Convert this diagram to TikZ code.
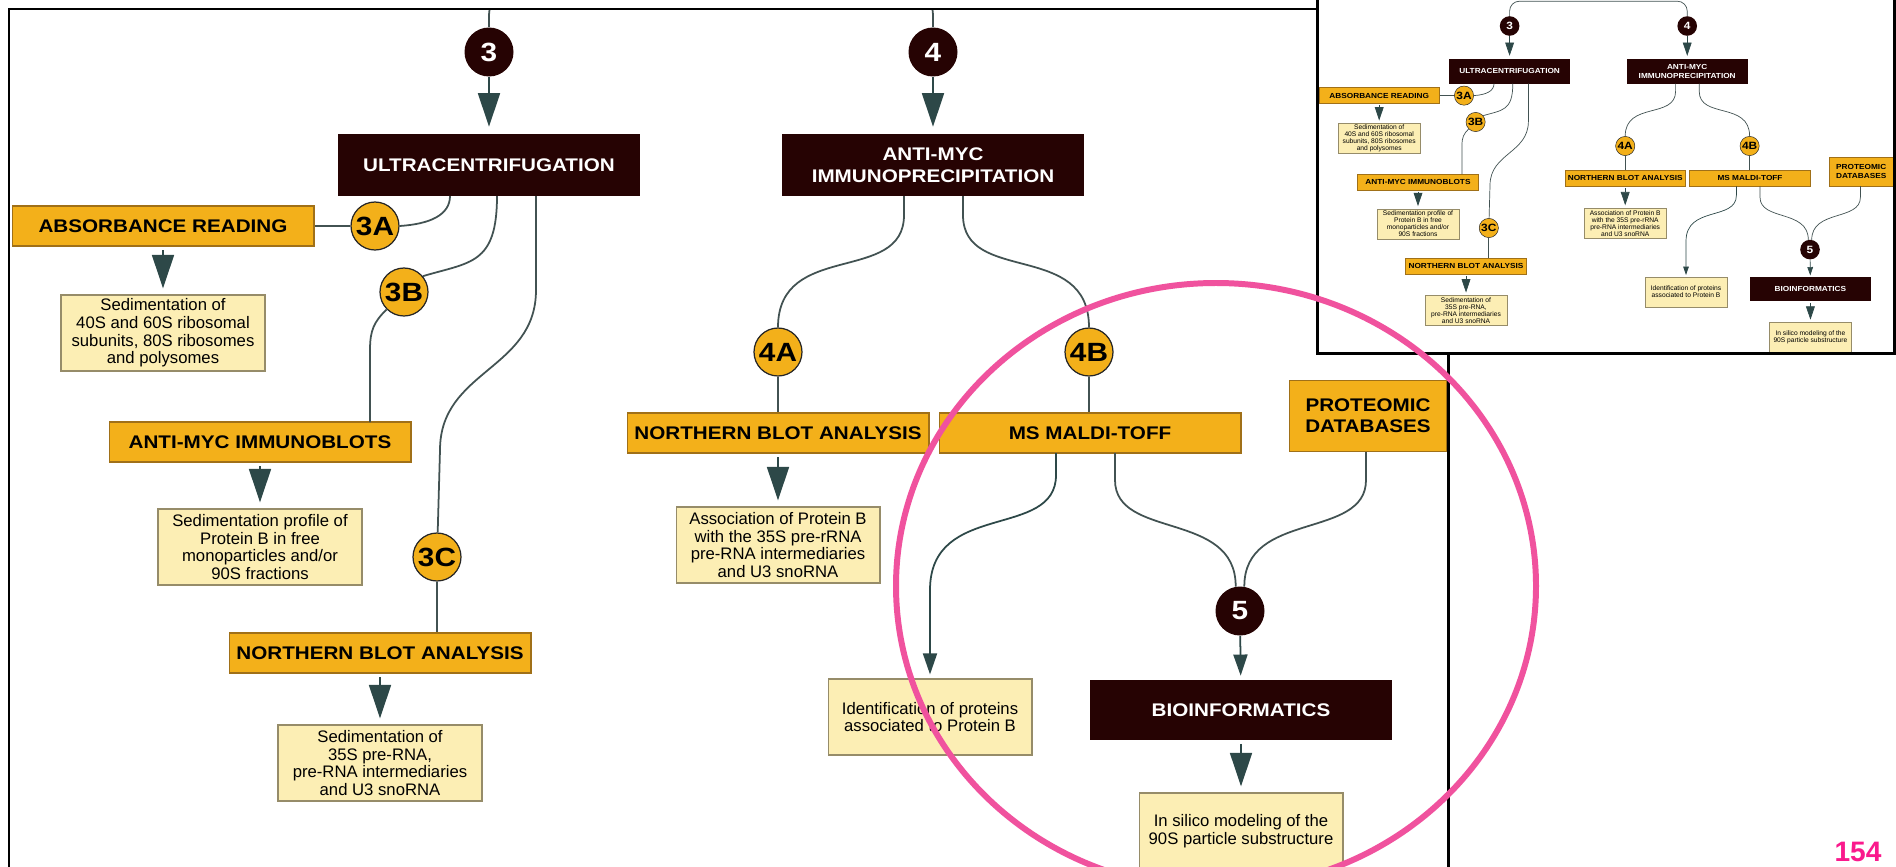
\documentclass[tikz,border=0pt]{standalone}
\usepackage{fontspec}
\setmainfont{Liberation Sans}
\newfontfamily\headfont{Liberation Sans}[FakeStretch=1.13]
\usetikzlibrary{arrows.meta}
\definecolor{stepdark}{RGB}{38,3,3}
\definecolor{steporange}{RGB}{243,176,26}
\definecolor{orangeline}{RGB}{160,112,24}
\definecolor{notefill}{RGB}{252,238,180}
\definecolor{noteline}{RGB}{150,140,105}
\definecolor{arrowgrey}{RGB}{45,72,72}
\definecolor{linkgrey}{RGB}{66,82,82}
\definecolor{ringpink}{RGB}{240,82,158}
\definecolor{pagepink}{RGB}{250,25,140}

\begin{document}
\begin{tikzpicture}[x=0.02cm,y=-0.02cm,
	darkbox/.style={fill=stepdark,text=white,minimum width=6.06cm,minimum height=1.24cm,inner sep=0pt,align=center,font=\headfont\bfseries\fontsize{10.4}{12.5}\selectfont},
	orangebox/.style={fill=steporange,draw=orangeline,line width=0.6pt,minimum width=6.04cm,minimum height=0.8cm,inner sep=0pt,align=center,font=\headfont\bfseries\fontsize{10.4}{12}\selectfont},
	notebox/.style={fill=notefill,draw=noteline,line width=0.6pt,minimum width=4.08cm,minimum height=1.52cm,inner sep=0pt,align=center,font=\fontsize{9.5}{10}\selectfont},
	darkdot/.style={circle,fill=stepdark,text=white,minimum size=0.98cm,inner sep=0pt,font=\headfont\bfseries\fontsize{15}{15}\selectfont},
	orangedot/.style={circle,fill=steporange,draw=black!85,line width=0.7pt,minimum size=0.96cm,inner sep=0pt,font=\headfont\bfseries\fontsize{15}{15}\selectfont},
	link/.style={draw=linkgrey,line width=1pt},
	bigtip/.style={draw=arrowgrey,line width=1pt,-{Triangle[length=19pt,width=12.5pt]},shorten <=2pt,shorten >=3.5pt},
	smalltip/.style={draw=arrowgrey,line width=1pt,-{Triangle[length=12pt,width=8pt]},shorten >=2.3pt},
	frame/.style={draw=black,line width=1.7pt}]
	\newcommand{\flowchart}{
		%Steps 3 and 4 coming from the top
		\node[darkdot] (c3) at (489,52) {3};
		\node[darkdot] (c4) at (933,52) {4};
		\draw[link,rounded corners=14pt] (c3) -- (489,-10) -- (933,-10) -- (c4);
		\node[darkbox] (ultra) at (489,165) {ULTRACENTRIFUGATION};
		\node[darkbox] (antimyc) at (933,165) {ANTI-MYC\\IMMUNOPRECIPITATION};
		\draw[bigtip,shorten <=0pt,shorten >=4pt] (c3) -- (ultra);
		\draw[bigtip,shorten <=0pt,shorten >=4pt] (c4) -- (antimyc);
		%Lines leaving the bottom of the boxes
		\coordinate (u1) at (450,196);
		\coordinate (u2) at (497,196);
		\coordinate (u3) at (536,196);
		\coordinate (m1) at (904,196);
		\coordinate (m2) at (963,196);
		%Branch 3
		\node[orangebox] (absread) at (163,226) {ABSORBANCE READING};
		\node[orangedot] (a3) at (375,226) {3A};
		\node[orangedot] (b3) at (404,292) {3B};
		\node[orangedot] (cc3) at (437,557) {3C};
		\node[orangebox] (blots) at (260,442) {ANTI-MYC IMMUNOBLOTS};
		\node[orangebox] (north3) at (380,653) {NORTHERN BLOT ANALYSIS};
		\coordinate (i1) at (370,422);
		\draw[link] (absread) -- (a3);
		\draw[link] (a3.east) .. controls (430,224) and (450,215) .. (u1);
		\draw[link] (u2) .. controls (497,265) and (470,262) .. (b3.40);
		\draw[link] (b3.-135) .. controls (374,322) and (370,330) .. (370,350) -- (i1);
		\draw[link] (u3) -- (536,290) .. controls (536,370) and (440,370) .. (440,450) -- (cc3);
		\draw[link] (cc3) -- (cc3 |- north3.north);
		\node[notebox] (absnote) at (163,333) {Sedimentation of\\40S and 60S ribosomal\\subunits, 80S ribosomes\\and polysomes};
		\node[notebox] (blotnote) at (260,547) {Sedimentation profile of\\Protein B in free\\monoparticles and/or\\90S fractions};
		\node[notebox] (north3note) at (380,763) {Sedimentation of\\35S pre-RNA,\\pre-RNA intermediaries\\and U3 snoRNA};
		\draw[bigtip] (absread) -- (absnote);
		\draw[bigtip] (blots) -- (blotnote);
		\draw[bigtip] (north3) -- (north3note);
		%Branch 4
		\node[orangedot] (a4) at (778,352) {4A};
		\node[orangedot] (b4) at (1089,352) {4B};
		\draw[link] (m1) -- (904,215) .. controls (904,285) and (778,240) .. (a4);
		\draw[link] (m2) -- (963,215) .. controls (963,285) and (1089,240) .. (b4);
		\node[orangebox] (north4) at (778,433) {NORTHERN BLOT ANALYSIS};
		\node[orangebox] (maldi) at (1090,433) {MS MALDI-TOFF};
		\node[orangebox,minimum width=3.16cm,minimum height=1.42cm] (proteomic) at (1368,416) {PROTEOMIC\\DATABASES};
		\draw[link] (a4) -- (north4);
		\draw[link] (b4) -- (b4 |- maldi.north);
		\node[notebox] (north4note) at (778,545) {Association of Protein B\\with the 35S pre-rRNA\\pre-RNA intermediaries\\and U3 snoRNA};
		\draw[bigtip] (north4) -- (north4note);
		\coordinate (ms1) at (1056,453);
		\coordinate (ms2) at (1115,453);
		\coordinate (pr1) at (1366,452);
		\node[notebox] (identnote) at (930,717) {Identification of proteins\\associated to Protein B};
		\draw[smalltip] (ms1) -- (1056,475) .. controls (1056,540) and (930,500) .. (930,590) -- (identnote);
		%Step 5
		\node[darkdot] (c5) at (1240,611) {5};
		\draw[link] (ms2) -- (1115,480) .. controls (1115,540) and (1236,510) .. (c5.100);
		\draw[link] (pr1) -- (1366,480) .. controls (1366,540) and (1244,510) .. (c5.80);
		\node[darkbox,minimum height=1.2cm] (bioinf) at (1241,710) {BIOINFORMATICS};
		\draw[smalltip] (c5) -- (bioinf);
		\node[notebox] (silico) at (1241,831) {In silico modeling of the\\90S particle substructure};
		\draw[bigtip] (bioinf) -- (silico);
	}
	\useasboundingbox (0,0) rectangle (1896,866);
	\fill[white] (0,0) rectangle (1896,866);
	%Close-up of the chart
	\begin{scope}
		\clip (9,9) rectangle (1448,880);
		\flowchart
	\end{scope}
	\draw[frame] (9,880) -- (9,9) -- (1448,9) -- (1448,880);
	%Small copy of the whole chart
	\fill[white] (1317,-5) rectangle (1894,353);
	\begin{scope}[transform canvas={shift={(1314,5.2)},scale=0.4}]
		\clip (7.5,-20) rectangle (1450,869);
		\flowchart
	\end{scope}
	\draw[frame] (1317,-5) -- (1317,353) -- (1894,353) -- (1894,-5);
	%Ring and page number
	\draw[ringpink,line width=3.4pt] (1216,586) ellipse [x radius=320,y radius=303];
	\node[text=pagepink,font=\bfseries\fontsize{16}{16}\selectfont] (pagenum) at (1858,852) {154};
\end{tikzpicture}
\end{document}
